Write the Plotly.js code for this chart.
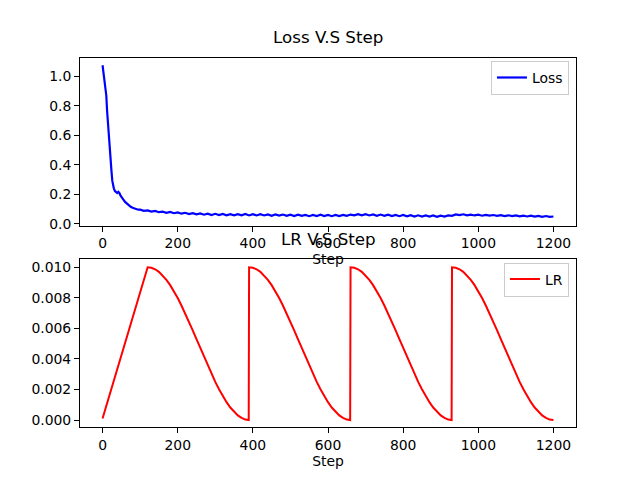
<!DOCTYPE html>
<html>
<head>
<meta charset="utf-8">
<script src="https://cdn.plot.ly/plotly-3.0.1.min.js"></script>
<style>html,body{margin:0;padding:0;background:#fff}#chart{width:640px;height:480px}</style>
</head>
<body>
<div id="chart"></div>
<script>
// Loss values
const lossSteps = [0,2,4,6,8,10,12,14,16,18,20,22,24,26,28,30,33,36,39,42,45,48,51,55,60,65,70,75,80,85,90,95,
  100,110,120,130,140,150,160,170,180,190,
  200,210,220,230,240,250,260,270,280,290,
  300,310,320,330,340,350,360,370,380,390,
  400,410,420,430,440,450,460,470,480,490,
  500,510,520,530,540,550,560,570,580,590,
  600,610,620,630,640,650,660,670,680,690,
  700,710,720,730,740,750,760,770,780,790,
  800,810,820,830,840,850,860,870,880,890,
  900,910,920,930,940,950,960,970,980,990,
  1000,1010,1020,1030,1040,1050,1060,1070,1080,1090,
  1100,1110,1120,1130,1140,1150,1160,1170,1180,1190,1200];
const lossValues = [1.075,1.03,0.99,0.975,0.93,0.87,0.77,0.69,0.60,0.53,0.47,0.41,0.35,0.29,0.26,0.24,0.222,0.213,0.208,0.216,0.207,0.19,0.176,0.165,0.148,0.135,0.125,0.115,0.108,0.102,0.098,0.095,
  0.095,0.087,0.090,0.082,0.087,0.078,0.082,0.074,0.080,0.071,
  0.077,0.068,0.074,0.065,0.072,0.063,0.070,0.061,0.068,0.059,
  0.067,0.058,0.066,0.057,0.065,0.057,0.065,0.057,0.066,0.056,
  0.065,0.056,0.064,0.056,0.063,0.054,0.063,0.055,0.062,0.053,
  0.061,0.052,0.061,0.053,0.060,0.051,0.060,0.052,0.061,0.052,
  0.060,0.051,0.059,0.052,0.060,0.053,0.062,0.057,0.065,0.057,
  0.065,0.056,0.063,0.054,0.062,0.053,0.061,0.052,0.060,0.051,
  0.059,0.050,0.058,0.049,0.057,0.049,0.056,0.048,0.056,0.047,
  0.055,0.048,0.056,0.053,0.063,0.058,0.064,0.057,0.062,0.056,
  0.061,0.054,0.060,0.055,0.059,0.053,0.058,0.052,0.057,0.051,
  0.056,0.050,0.055,0.049,0.054,0.048,0.053,0.047,0.052,0.046,0.049];

// LR values (linear warmup, then cosine cycles with restarts)
const lrSteps = [0,
  120,130,140,150,160,170,180,190,200,210,220,230,240,250,260,270,280,290,300,310,320,330,340,350,360,370,380,389,
  390,400,410,420,430,440,450,460,470,480,490,500,510,520,530,540,550,560,570,580,590,600,610,620,630,640,650,659,
  660,670,680,690,700,710,720,730,740,750,760,770,780,790,800,810,820,830,840,850,860,870,880,890,900,910,920,929,
  930,940,950,960,970,980,990,1000,1010,1020,1030,1040,1050,1060,1070,1080,1090,1100,1110,1120,1130,1140,1150,1160,1170,1180,1190,1200];
const lrValues = [0.0001,
  0.01000,0.00997,0.00987,0.00970,0.00947,0.00918,0.00883,0.00843,0.00799,0.00750,0.00698,0.00643,0.00587,0.00529,0.00471,0.00413,0.00357,0.00302,0.00250,0.00201,0.00157,0.00117,0.00082,0.00053,0.00030,0.00014,0.00003,0.00000,
  0.01000,0.00997,0.00987,0.00970,0.00947,0.00918,0.00883,0.00843,0.00799,0.00750,0.00698,0.00643,0.00587,0.00529,0.00471,0.00413,0.00357,0.00302,0.00250,0.00201,0.00157,0.00117,0.00082,0.00053,0.00030,0.00014,0.00003,0.00000,
  0.01000,0.00997,0.00987,0.00970,0.00947,0.00918,0.00883,0.00843,0.00799,0.00750,0.00698,0.00643,0.00587,0.00529,0.00471,0.00413,0.00357,0.00302,0.00250,0.00201,0.00157,0.00117,0.00082,0.00053,0.00030,0.00014,0.00003,0.00000,
  0.01000,0.00997,0.00987,0.00970,0.00947,0.00918,0.00883,0.00843,0.00799,0.00750,0.00698,0.00643,0.00587,0.00529,0.00471,0.00413,0.00357,0.00302,0.00250,0.00201,0.00157,0.00117,0.00082,0.00053,0.00030,0.00014,0.00003,0.00000];

const xTicks = [0,200,400,600,800,1000,1200];
const lossTicks = [0.0,0.2,0.4,0.6,0.8,1.0];
const lrTicks = [0.000,0.002,0.004,0.006,0.008,0.010];

const FONT = 'DejaVu Sans, sans-serif';
const FS = 13.9;

const traces = [
  {x: lossSteps, y: lossValues, type: 'scatter', mode: 'lines', name: 'Loss',
   line: {color: '#0000ff', width: 2.2}, xaxis: 'x', yaxis: 'y', legend: 'legend'},
  {x: lrSteps, y: lrValues, type: 'scatter', mode: 'lines', name: 'LR',
   line: {color: '#ff0000', width: 2}, xaxis: 'x2', yaxis: 'y2', legend: 'legend2'}
];

const axisCommon = {
  showline: true, mirror: true, linecolor: '#000', linewidth: 1,
  ticks: 'outside', ticklen: 5, tickwidth: 1, tickcolor: '#000',
  showgrid: false, zeroline: false,
  tickfont: {family: FONT, size: FS, color: '#000'}
};

const legendCommon = {
  bgcolor: 'rgba(255,255,255,0.8)', bordercolor: '#cccccc', borderwidth: 1,
  font: {family: FONT, size: FS, color: '#000'},
  xanchor: 'right', yanchor: 'top', itemwidth: 30
};

const layout = {
  width: 640, height: 480,
  margin: {l: 0, r: 0, t: 0, b: 0},
  paper_bgcolor: '#fff', plot_bgcolor: '#fff',
  showlegend: true,
  font: {family: FONT, size: FS, color: '#000'},
  xaxis: Object.assign({}, axisCommon, {domain: [0.125, 0.9], range: [-60, 1260], tickvals: xTicks, anchor: 'y',
    title: {text: 'Step', font: {family: FONT, size: FS, color: '#000'}, standoff: 3}}),
  yaxis: Object.assign({}, axisCommon, {domain: [0.53, 0.88], range: [-0.0129, 1.127], tickvals: lossTicks, tickformat: '.1f', anchor: 'x'}),
  xaxis2: Object.assign({}, axisCommon, {domain: [0.125, 0.9], range: [-60, 1260], tickvals: xTicks, anchor: 'y2',
    title: {text: 'Step', font: {family: FONT, size: FS, color: '#000'}, standoff: 4}}),
  yaxis2: Object.assign({}, axisCommon, {domain: [0.11, 0.46], range: [-0.00047, 0.01053], tickvals: lrTicks, tickformat: '.3f', anchor: 'x2'}),
  legend: Object.assign({}, legendCommon, {x: 0.889, y: 0.873}),
  legend2: Object.assign({}, legendCommon, {x: 0.889, y: 0.453}),
  annotations: [
    {text: 'Loss V.S Step', xref: 'paper', yref: 'paper', x: 0.5125, y: 0.897, xanchor: 'center', yanchor: 'bottom',
     showarrow: false, font: {family: FONT, size: 16.7, color: '#000'}},
    {text: 'LR V.S Step', xref: 'paper', yref: 'paper', x: 0.5125, y: 0.477, xanchor: 'center', yanchor: 'bottom',
     showarrow: false, font: {family: FONT, size: 16.7, color: '#000'}}
  ]
};

Plotly.newPlot('chart', traces, layout, {displayModeBar: false, staticPlot: true});
</script>
</body>
</html>
